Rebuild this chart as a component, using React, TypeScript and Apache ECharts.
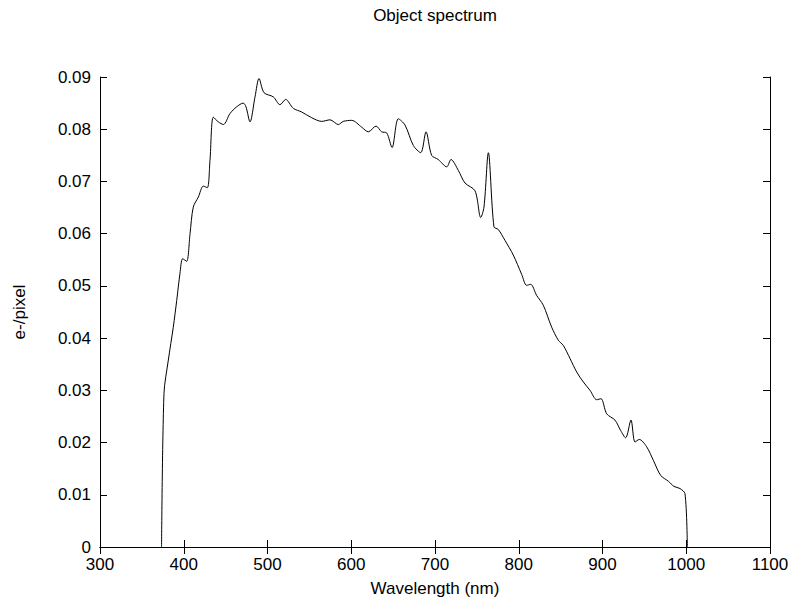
import React, { useEffect, useRef } from "react";
import * as echarts from "echarts";

const wavelength = [
  373.5, 376.4, 381.6, 387.5, 391.6, 395.5, 398.7, 403.5, 407.5, 411.4, 417.4,
  423.4, 428.2, 431.3, 435.3, 441.3, 447.3, 455.2, 463.2, 471.1, 474.3, 479.1,
  485.1, 489.9, 495.8, 506.9, 514.9, 521.7, 530.8, 540.8, 552.8, 564.7, 574.6,
  584.6, 590.5, 600.5, 612.4, 620.4, 629.6, 636.3, 642.3, 648.7, 656.2, 664.2,
  674.1, 682.9, 689.3, 696.0, 703.9, 714.0, 719.1, 727.9, 735.8, 747.8, 754.6,
  758.5, 763.7, 770.4, 775.6, 783.6, 793.5, 803.5, 809.4, 814.2, 821.3, 829.3,
  839.3, 847.2, 853.2, 861.2, 869.2, 877.1, 885.1, 893.1, 898.2, 905.0, 914.9,
  921.7, 927.6, 934.0, 938.8, 943.9, 952.7, 960.7, 969.5, 978.6, 985.4, 992.5,
  998.5, 1001.3,
];

const flux = [
  0.0, 0.0294, 0.0358, 0.0421, 0.0472, 0.0524, 0.0552, 0.0547, 0.06, 0.0651,
  0.067, 0.0691, 0.0688, 0.074, 0.0823, 0.0814, 0.0809, 0.083, 0.0843, 0.085,
  0.0843, 0.0814, 0.0862, 0.0897, 0.087, 0.0862, 0.0847, 0.0857, 0.084, 0.0833,
  0.0822, 0.0815, 0.0818, 0.0809, 0.0815, 0.0817, 0.0804, 0.0795, 0.0806,
  0.0795, 0.0793, 0.0765, 0.082, 0.0808, 0.0769, 0.0755, 0.0795, 0.075, 0.0742,
  0.0728, 0.0742, 0.0721, 0.0697, 0.0682, 0.0631, 0.0651, 0.0755, 0.0613,
  0.0608, 0.0587, 0.0559, 0.0522, 0.0501, 0.0503, 0.0482, 0.0463, 0.0421,
  0.0396, 0.0386, 0.0361, 0.0335, 0.0316, 0.03, 0.0282, 0.0284, 0.0255, 0.0243,
  0.0223, 0.0209, 0.0243, 0.0201, 0.0206, 0.0192, 0.0166, 0.0137, 0.0126,
  0.0116, 0.0112, 0.0102, 0.0,
];

const titleText = "Object spectrum";
const xName = "Wavelength (nm)";
const yName = "e-/pixel";

export default function App() {
  const ref = useRef<HTMLDivElement>(null);

  useEffect(() => {
    if (!ref.current) return;
    const chart = echarts.init(ref.current, null, { renderer: "svg" });
    const font = "'Liberation Sans', Arial, sans-serif";
    const fs = 17;
    const axisLine = { show: true, lineStyle: { color: "#000", width: 1 } };
    const tick = { show: true, inside: true, length: 7, lineStyle: { color: "#000", width: 1 } };
    const data = wavelength.map((w, i) => [w, flux[i]]);
    chart.setOption({
      animation: false,
      backgroundColor: "#fff",
      title: {
        text: titleText,
        left: 435,
        textAlign: "center",
        top: 5,
        padding: 0,
        textStyle: { fontFamily: font, fontSize: fs, fontWeight: "normal", color: "#000", lineHeight: 20 },
      },
      grid: { left: 100, right: 25, top: 77, bottom: 59 },
      xAxis: [
        {
          type: "value",
          min: 300,
          max: 1100,
          interval: 100,
          position: "bottom",
          name: xName,
          nameLocation: "middle",
          nameGap: 33,
          nameTextStyle: { fontFamily: font, fontSize: fs, color: "#000" },
          axisLine,
          axisTick: tick,
          splitLine: { show: false },
          axisLabel: {
            fontFamily: font,
            fontSize: fs,
            lineHeight: 17,
            color: "#000",
            margin: 9,
            formatter: (v: number) => String(v),
          },
        },
        {
          type: "value",
          min: 300,
          max: 1100,
          interval: 100,
          position: "top",
          axisLine,
          axisTick: tick,
          splitLine: { show: false },
          axisLabel: { show: false },
        },
      ],
      yAxis: [
        {
          type: "value",
          min: 0,
          max: 0.09,
          interval: 0.01,
          position: "left",
          name: yName,
          nameLocation: "middle",
          nameGap: 72,
          nameTextStyle: { fontFamily: font, fontSize: fs, color: "#000" },
          axisLine,
          axisTick: tick,
          splitLine: { show: false },
          axisLabel: {
            fontFamily: font,
            fontSize: fs,
            lineHeight: 16,
            color: "#000",
            margin: 9,
            formatter: (v: number) => String(Math.round(v * 100) / 100),
          },
        },
        {
          type: "value",
          min: 0,
          max: 0.09,
          interval: 0.01,
          position: "right",
          axisLine,
          axisTick: tick,
          splitLine: { show: false },
          axisLabel: { show: false },
        },
      ],
      series: [
        {
          type: "line",
          data,
          xAxisIndex: 0,
          yAxisIndex: 0,
          showSymbol: false,
          smooth: 0.3,
          lineStyle: { color: "#000", width: 1 },
        },
      ],
    });
    return () => chart.dispose();
  }, []);

  return (
    <div
      ref={ref}
      style={{ position: "absolute", left: 0, top: 0, width: 795, height: 606 }}
    />
  );
}
